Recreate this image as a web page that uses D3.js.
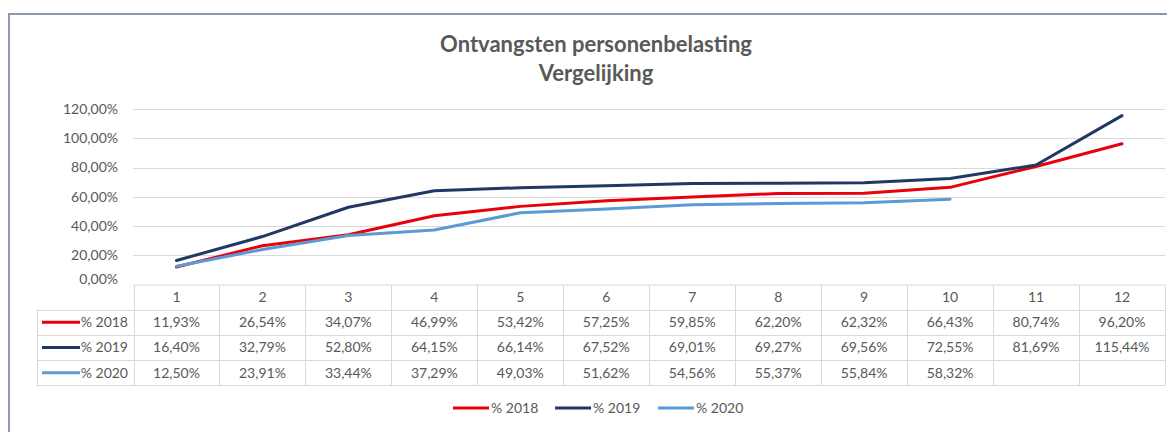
<!DOCTYPE html>
<html>
<head>
<meta charset="utf-8">
<script src="https://cdn.jsdelivr.net/npm/d3@7"></script>
<style>
  body { margin: 0; background: #fff; }
  svg { display: block; font-family: Lato, "Open Sans", sans-serif; }
</style>
</head>
<body>
<div id="chart"></div>
<script>
const maanden = ['1', '2', '3', '4', '5', '6', '7', '8', '9', '10', '11', '12'];
const reeksen = ['% 2018', '% 2019', '% 2020'];
const kleuren = ['#e8000b', '#1f3864', '#5b9bd5'];
const waarden2018 = [11.93, 26.54, 34.07, 46.99, 53.42, 57.25, 59.85, 62.20, 62.32, 66.43, 80.74, 96.20];
const waarden2019 = [16.40, 32.79, 52.80, 64.15, 66.14, 67.52, 69.01, 69.27, 69.56, 72.55, 81.69, 115.44];
const waarden2020 = [12.50, 23.91, 33.44, 37.29, 49.03, 51.62, 54.56, 55.37, 55.84, 58.32, null, null];
const yTicks = [0, 20, 40, 60, 80, 100, 120];

const breedte = 1167, hoogte = 432;
const tekst = '#595959', raster = '#d9d9d9';
const fs = 14;
const fmt = v => v.toFixed(2).replace('.', ',') + '%';

const svg = d3.select('#chart')
    .append('svg')
    .attr('width', breedte)
    .attr('height', hoogte);

// kader
svg.append('path')
    .attr('d', `M9,${hoogte} V14 H${breedte}`)
    .attr('fill', 'none')
    .attr('stroke', '#8d99ae')
    .attr('stroke-width', 2);

// titel
svg.append('text')
    .attr('x', 596).attr('y', 52)
    .attr('text-anchor', 'middle')
    .attr('font-size', 22).attr('font-weight', 'bold')
    .attr('fill', tekst)
    .text('Ontvangsten personenbelasting');
svg.append('text')
    .attr('x', 596).attr('y', 81)
    .attr('text-anchor', 'middle')
    .attr('font-size', 22).attr('font-weight', 'bold')
    .attr('fill', tekst)
    .text('Vergelijking');

const x = d3.scaleBand().domain(maanden).range([133.5, 1165]);
const y = d3.scaleLinear().domain([0, 120]).range([284.5, 109]);

// rasterlijnen
svg.append('g')
    .selectAll('line')
    .data(yTicks.filter(t => t > 0))
    .enter()
    .append('line')
    .attr('x1', 133).attr('x2', 1165)
    .attr('y1', d => Math.round(y(d)) + 0.5)
    .attr('y2', d => Math.round(y(d)) + 0.5)
    .attr('stroke', raster);

// y-as
const yAs = svg.append('g')
    .attr('transform', 'translate(118,0)')
    .call(d3.axisLeft(y).tickValues(yTicks).tickSize(0).tickPadding(0).tickFormat(fmt));
yAs.select('.domain').remove();
yAs.selectAll('text').attr('fill', tekst).attr('font-size', fs).attr('font-family', 'Lato, sans-serif')
    .attr('dy', d => d === 0 ? '-0.1em' : '0.32em');

// lijnen
const alleReeksen = [waarden2018, waarden2019, waarden2020];
const lijn = d3.line()
    .defined(d => d != null)
    .x((d, i) => x(maanden[i]) + x.bandwidth() / 2)
    .y(d => y(d));

svg.append('g')
    .selectAll('path')
    .data(alleReeksen)
    .enter()
    .append('path')
    .attr('d', lijn)
    .attr('fill', 'none')
    .attr('stroke', (d, i) => kleuren[i])
    .attr('stroke-width', 3)
    .attr('stroke-linejoin', 'round')
    .attr('stroke-linecap', 'round');

// tabel
const tabelTop = 285, kopHoogte = 24.5, rijHoogte = 25.3;
const rijY = i => tabelTop + kopHoogte + i * rijHoogte;
const tabel = svg.append('g').attr('stroke', raster).attr('stroke-width', 1);
tabel.append('line').attr('x1', 133).attr('x2', 1165).attr('y1', tabelTop).attr('y2', tabelTop);
[0, 1, 2, 3].forEach(i => {
    tabel.append('line').attr('x1', 37).attr('x2', 1165)
        .attr('y1', Math.round(rijY(i)) + 0.5).attr('y2', Math.round(rijY(i)) + 0.5);
});
tabel.selectAll('.kol')
    .data(maanden.concat(['eind']))
    .enter()
    .append('line')
    .attr('x1', (d, i) => Math.round(133.5 + i * x.step()) + 0.5)
    .attr('x2', (d, i) => Math.round(133.5 + i * x.step()) + 0.5)
    .attr('y1', tabelTop).attr('y2', Math.round(rijY(3)) + 0.5);
tabel.append('line').attr('x1', 37.5).attr('x2', 37.5)
    .attr('y1', Math.round(rijY(0)) + 0.5).attr('y2', Math.round(rijY(3)) + 0.5);

// kopregel
svg.append('g')
    .selectAll('text')
    .data(maanden)
    .enter()
    .append('text')
    .attr('x', d => x(d) + x.bandwidth() / 2)
    .attr('y', tabelTop + kopHoogte / 2 + 5)
    .attr('text-anchor', 'middle')
    .attr('font-size', fs)
    .attr('fill', tekst)
    .text(d => d);

// rijen
alleReeksen.forEach((reeks, r) => {
    const g = svg.append('g');
    const cy = rijY(r) + rijHoogte / 2;
    g.append('line')
        .attr('x1', 42).attr('x2', 80)
        .attr('y1', cy).attr('y2', cy)
        .attr('stroke', kleuren[r]).attr('stroke-width', 3);
    g.append('text')
        .attr('x', 128).attr('y', cy + 5)
        .attr('text-anchor', 'end')
        .attr('font-size', fs)
        .attr('fill', tekst)
        .text(reeksen[r]);
    g.selectAll('.waarde')
        .data(reeks)
        .enter()
        .append('text')
        .attr('x', (d, i) => x(maanden[i]) + x.bandwidth() / 2)
        .attr('y', cy + 5)
        .attr('text-anchor', 'middle')
        .attr('font-size', fs)
        .attr('fill', tekst)
        .text(d => d == null ? '' : fmt(d));
});

// legenda
const legX = [453, 555, 658];
const legenda = svg.append('g');
reeksen.forEach((naam, i) => {
    legenda.append('line')
        .attr('x1', legX[i]).attr('x2', legX[i] + 36)
        .attr('y1', 408).attr('y2', 408)
        .attr('stroke', kleuren[i]).attr('stroke-width', 3);
    legenda.append('text')
        .attr('x', legX[i] + 38).attr('y', 413)
        .attr('font-size', fs)
        .attr('fill', tekst)
        .text(naam);
});
</script>
</body>
</html>
